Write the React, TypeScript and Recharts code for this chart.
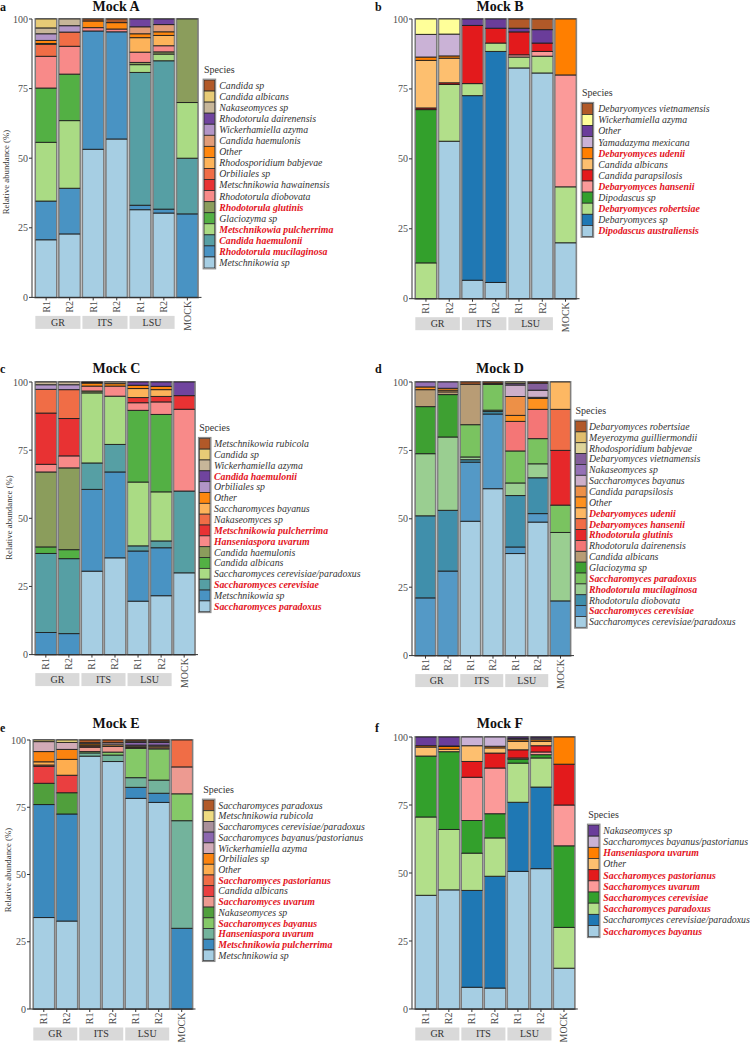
import React from 'react'
import { BarChart, Bar, XAxis, YAxis } from 'recharts'

const SAMPLES = ['GR R1', 'GR R2', 'ITS R1', 'ITS R2', 'LSU R1', 'LSU R2', 'MOCK']

// species are listed in legend order (top of the stack first);
// each row holds the relative abundance (%) for the 7 samples above
const A_SPECIES = [
  'Candida sp', 'Candida albicans', 'Nakaseomyces sp', 'Rhodotorula dairenensis', 'Wickerhamiella azyma',
  'Candida haemulonis', 'Other', 'Rhodosporidium babjevae', 'Orbiliales sp', 'Metschnikowia hawainensis',
  'Rhodotorula diobovata', 'Rhodotorula glutinis', 'Glaciozyma sp', 'Metschnikowia pulcherrima',
  'Candida haemulonii', 'Rhodotorula mucilaginosa', 'Metschnikowia sp',
]
const A_RED = ['Rhodotorula glutinis', 'Metschnikowia pulcherrima', 'Candida haemulonii', 'Rhodotorula mucilaginosa']
const A_VALUES = [
  [0, 0, 0.7, 1.3, 0, 0, 0],
  [3.2, 0, 0, 0, 0, 0, 0],
  [2.1, 2.4, 0, 0, 0, 0, 0],
  [0, 0, 0, 0, 2.8, 2.0, 0],
  [2.4, 2.3, 0, 0, 0, 0, 0],
  [0, 0, 0, 0, 2.5, 2.6, 0],
  [1.1, 0, 2.4, 2.3, 1.4, 1.3, 0],
  [0.3, 0, 0, 0, 5.2, 3.7, 0],
  [4.3, 5.1, 0, 0, 0, 0, 0],
  [0, 0, 0, 0, 0, 0, 0],
  [11.4, 10.0, 1.2, 1.0, 3.7, 2.2, 0],
  [0, 0, 0, 0, 0.8, 0.8, 30],
  [19.5, 16.7, 0, 0, 0, 0, 0],
  [21.1, 24.3, 0, 0, 2.8, 2.4, 20],
  [0, 0, 0, 0, 47.7, 53.3, 20],
  [13.9, 16.4, 42.5, 38.5, 1.6, 1.4, 30],
  [20.7, 22.8, 53.2, 56.9, 31.5, 30.3, 0],
]

const B_SPECIES = [
  'Debaryomyces vietnamensis', 'Wickerhamiella azyma', 'Other', 'Yamadazyma mexicana', 'Debaryomyces udenii',
  'Candida albicans', 'Candida parapsilosis', 'Debaryomyces hansenii', 'Dipodascus sp',
  'Debaryomyces robertsiae', 'Debaryomyces sp', 'Dipodascus australiensis',
]
const B_RED = ['Debaryomyces udenii', 'Debaryomyces hansenii', 'Debaryomyces robertsiae', 'Dipodascus australiensis']
const B_VALUES = [
  [0, 0, 0, 0, 3.3, 3.8, 0],
  [5.5, 5.4, 0, 0, 0, 0, 0],
  [0, 0, 2.3, 3.3, 1.3, 4.8, 0],
  [8.1, 7.8, 0, 0, 0, 0, 0],
  [1.2, 0.8, 0, 0, 0, 0, 20],
  [17, 8.8, 0, 0, 0, 0, 0],
  [0.6, 0.6, 20.8, 5.3, 8.2, 3.0, 0],
  [0, 0, 0, 0, 0.8, 1.7, 40],
  [54.8, 0, 0, 0, 0, 0, 0],
  [12.8, 20.3, 4.3, 3.0, 3.9, 6.0, 20],
  [0, 0, 66, 82.6, 0, 0, 0],
  [0, 56.3, 6.6, 5.8, 82.5, 80.7, 20],
]

const C_SPECIES = [
  'Metschnikowia rubicola', 'Candida sp', 'Wickerhamiella azyma', 'Candida haemulonii', 'Orbiliales sp',
  'Other', 'Saccharomyces bayanus', 'Nakaseomyces sp', 'Metschnikowia pulcherrima', 'Hanseniaspora uvarum',
  'Candida haemulonis', 'Candida albicans', 'Saccharomyces cerevisiae/paradoxus', 'Saccharomyces cerevisiae',
  'Metschnikowia sp', 'Saccharomyces paradoxus',
]
const C_RED = ['Candida haemulonii', 'Metschnikowia pulcherrima', 'Hanseniaspora uvarum', 'Saccharomyces cerevisiae', 'Saccharomyces paradoxus']
const C_VALUES = [
  [0, 0, 0.2, 0, 0, 0, 0],
  [0, 0, 0, 0, 0, 0, 0],
  [1, 1, 0.2, 0.6, 0, 0, 0],
  [0, 0, 0, 0, 1.2, 1.6, 5],
  [1.7, 1.8, 0, 0, 0, 0, 0],
  [0, 0, 1.1, 0.9, 1.2, 1.2, 0],
  [0, 0, 0, 0, 3.3, 2.5, 0],
  [8.7, 10.6, 0, 0, 0, 0, 0],
  [18.8, 13.7, 0, 0, 1.9, 2.0, 5],
  [2.8, 4.4, 1.8, 3.7, 2.8, 4.6, 30],
  [27.5, 30, 0.7, 0, 0, 0, 0],
  [2.4, 3.3, 0, 0, 26.3, 28.4, 0],
  [0, 0, 25.7, 17.7, 23.4, 18, 0],
  [29, 27.5, 9.7, 10.1, 1.9, 2.5, 30],
  [8.1, 7.7, 30, 31.5, 18.4, 17.6, 0],
  [0, 0, 30.6, 35.5, 19.6, 21.6, 30],
]

const D_SPECIES = [
  'Debaryomyces robertsiae', 'Meyerozyma guilliermondii', 'Rhodosporidium babjevae', 'Debaryomyces vietnamensis',
  'Nakaseomyces sp', 'Saccharomyces bayanus', 'Candida parapsilosis', 'Other', 'Debaryomyces udenii',
  'Debaryomyces hansenii', 'Rhodotorula glutinis', 'Rhodotorula dairenensis', 'Candida albicans', 'Glaciozyma sp',
  'Saccharomyces paradoxus', 'Rhodotorula mucilaginosa', 'Rhodotorula diobovata', 'Saccharomyces cerevisiae',
  'Saccharomyces cerevisiae/paradoxus',
]
const D_RED = ['Debaryomyces udenii', 'Debaryomyces hansenii', 'Rhodotorula glutinis', 'Saccharomyces paradoxus', 'Rhodotorula mucilaginosa', 'Saccharomyces cerevisiae']
const D_VALUES = [
  [0, 0, 0.8, 0.5, 0, 0.4, 0],
  [0, 0, 0, 0, 0, 0, 0],
  [0, 0, 0, 0, 0.5, 0, 0],
  [0, 0, 0, 0, 0.6, 2.6, 0],
  [1.8, 2.3, 0, 0, 0, 0, 0],
  [0, 0, 0, 0, 4.2, 2.6, 0],
  [0, 0, 0, 0, 6.9, 0.4, 0],
  [1.0, 0.7, 0, 0, 2.2, 4.0, 0],
  [0, 0.6, 0, 0, 0, 0, 10],
  [0, 0, 0, 0, 0, 0, 15],
  [0, 0, 0, 0, 0, 0, 20],
  [0, 0, 0, 0, 10.8, 10.7, 0],
  [6.2, 1.0, 14.8, 0.4, 0, 0, 0],
  [17.2, 15.5, 0, 0, 0, 0, 0],
  [0, 0, 11.8, 9.4, 11.7, 9.2, 10],
  [22.7, 26.8, 1.0, 0.5, 4.6, 5.1, 25],
  [30, 22.2, 0.9, 0.9, 18.8, 13.1, 0],
  [21.1, 30.9, 21.6, 27.3, 2.4, 3.1, 20],
  [0, 0, 49.1, 61, 37.3, 48.8, 0],
]

const E_SPECIES = [
  'Saccharomyces paradoxus', 'Metschnikowia rubicola', 'Saccharomyces cerevisiae/paradoxus',
  'Saccharomyces bayanus/pastorianus', 'Wickerhamiella azyma', 'Orbiliales sp', 'Other',
  'Saccharomyces pastorianus', 'Candida albicans', 'Saccharomyces uvarum', 'Nakaseomyces sp',
  'Saccharomyces bayanus', 'Hanseniaspora uvarum', 'Metschnikowia pulcherrima', 'Metschnikowia sp',
]
const E_RED = ['Saccharomyces pastorianus', 'Saccharomyces uvarum', 'Saccharomyces bayanus', 'Hanseniaspora uvarum', 'Metschnikowia pulcherrima']
const E_VALUES = [
  [0, 0, 1.0, 1.0, 0.4, 0.4, 0],
  [0.6, 0.9, 0, 0, 0, 0, 0],
  [0, 0, 0.4, 0.8, 0.5, 0.5, 0],
  [0, 0, 0, 0, 1.0, 1.0, 0],
  [3.7, 2.6, 0, 0, 0.4, 0.4, 0],
  [3.8, 3.7, 0.5, 0, 0, 0, 0],
  [1.2, 5.9, 0.4, 0.6, 0.5, 0.6, 0],
  [0.5, 0, 0, 0, 0, 0, 10],
  [6.3, 6.5, 0.4, 0, 0, 0, 0],
  [0, 0, 1.6, 2.1, 0.3, 0.4, 10],
  [7.9, 7.9, 0, 0, 0, 0, 0],
  [0, 0, 0.5, 1.1, 10.9, 11.6, 10],
  [0, 0, 1.2, 2.4, 3.6, 4.9, 40],
  [42, 39.8, 0, 0, 4.1, 3.4, 30],
  [34, 32.7, 94, 92, 78.3, 76.8, 0],
]

const F_SPECIES = [
  'Nakaseomyces sp', 'Saccharomyces bayanus/pastorianus', 'Hanseniaspora uvarum', 'Other',
  'Saccharomyces pastorianus', 'Saccharomyces uvarum', 'Saccharomyces cerevisiae', 'Saccharomyces paradoxus',
  'Saccharomyces cerevisiae/paradoxus', 'Saccharomyces bayanus',
]
const F_RED = ['Hanseniaspora uvarum', 'Saccharomyces pastorianus', 'Saccharomyces uvarum', 'Saccharomyces cerevisiae', 'Saccharomyces paradoxus', 'Saccharomyces bayanus']
const F_VALUES = [
  [3.2, 3.3, 0, 0, 0.6, 0.4, 0],
  [0, 0.2, 3.2, 3.4, 0.4, 0.6, 0],
  [0.5, 1.0, 0, 0.6, 0.6, 0.6, 10],
  [3.3, 0.9, 5.8, 1.9, 3.1, 1.6, 0],
  [0, 0, 5.8, 5.5, 3.0, 2.3, 15],
  [0, 0, 15.9, 16.8, 0.4, 1.0, 15],
  [22.4, 28.6, 12, 8.9, 1.5, 1.2, 30],
  [28.8, 22.2, 13.7, 14.1, 14.4, 10.7, 15],
  [0, 0, 35.6, 41.1, 25.4, 30, 0],
  [41.8, 43.8, 8, 7.7, 50.6, 51.6, 15],
]

// ColorBrewer "Paired", stretched the way colorRampPalette does it
const PAIRED = ['#a6cee3', '#1f78b4', '#b2df8a', '#33a02c', '#fb9a99', '#e31a1c', '#fdbf6f', '#ff7f00', '#cab2d6', '#6a3d9a', '#ffff99', '#b15928']

function ramp(n: number): string[] {
  const rgb = PAIRED.map((h) => [1, 3, 5].map((k) => parseInt(h.slice(k, k + 2), 16)))
  return Array.from({ length: n }, (_, k) => {
    const t = (k * (rgb.length - 1)) / (n - 1)
    const i = Math.min(Math.floor(t), rgb.length - 2)
    const f = t - i
    const c = rgb[i].map((v, j) => Math.round(v + (rgb[i + 1][j] - v) * f))
    return '#' + c.map((v) => v.toString(16).padStart(2, '0')).join('')
  })
}

const FONT = '"Liberation Serif", "Times New Roman", Times, serif'
const RED = '#e3121b'
const INK = '#333333'

interface Spec {
  letter: string
  title: string
  species: string[]
  red: string[]
  values: number[][]
  colors: string[] // bottom of the stack first
  axisX: number
  y100: number
  y0: number
  plotRight: number
  letterX: number
  letterY: number
  titleX: number
  titleY: number
  yTitle?: { x: number; y: number }
  keyX: number
  labelX: number
  keysTop: number
  rowH: number
}

const PANELS: Spec[] = [
  {
    letter: 'a', title: 'Mock A', species: A_SPECIES, red: A_RED, values: A_VALUES, colors: ramp(17),
    axisX: 31.5, y100: 19.3, y0: 297.7, plotRight: 201,
    letterX: 0, letterY: 10.5, titleX: 116, titleY: 11, yTitle: { x: 8.5, y: 172 },
    keyX: 204, labelX: 219.3, keysTop: 80, rowH: 11.06,
  },
  {
    letter: 'b', title: 'Mock B', species: B_SPECIES, red: B_RED, values: B_VALUES, colors: ramp(12),
    axisX: 411.5, y100: 19.3, y0: 299, plotRight: 579,
    letterX: 375, letterY: 10.5, titleX: 500, titleY: 11,
    keyX: 582, labelX: 598.3, keysTop: 103.3, rowH: 11.1,
  },
  {
    letter: 'c', title: 'Mock C', species: C_SPECIES, red: C_RED, values: C_VALUES,
    colors: ramp(17).filter((_, k) => k !== 11),
    axisX: 31.5, y100: 381.7, y0: 654.3, plotRight: 197.5,
    letterX: 0, letterY: 373, titleX: 116.5, titleY: 373, yTitle: { x: 12, y: 517.5 },
    keyX: 199.3, labelX: 214, keysTop: 438.3, rowH: 10.84,
  },
  {
    letter: 'd', title: 'Mock D', species: D_SPECIES, red: D_RED, values: D_VALUES, colors: ramp(19),
    axisX: 411.5, y100: 381.7, y0: 655.3, plotRight: 573.5,
    letterX: 375, letterY: 373, titleX: 500, titleY: 373,
    keyX: 575.5, labelX: 589, keysTop: 421, rowH: 10.86,
  },
  {
    letter: 'e', title: 'Mock E', species: E_SPECIES, red: E_RED, values: E_VALUES, colors: ramp(15),
    axisX: 29.5, y100: 740, y0: 1009, plotRight: 195,
    letterX: 0, letterY: 732, titleX: 116, titleY: 728, yTitle: { x: 10.5, y: 870 },
    keyX: 203.3, labelX: 218.3, keysTop: 800, rowH: 10.71,
  },
  {
    letter: 'f', title: 'Mock F', species: F_SPECIES, red: F_RED, values: F_VALUES, colors: PAIRED.slice(0, 10),
    axisX: 411.7, y100: 737.3, y0: 1009.3, plotRight: 577.5,
    letterX: 375, letterY: 732, titleX: 500, titleY: 728,
    keyX: 588.3, labelX: 603.3, keysTop: 825, rowH: 11.17,
  },
]

const MT = 6
const YW = 30
const XH = 46
const MR = 4

function Segment(props: any) {
  const { x, y, width, height, fill } = props
  if (!height || height <= 0) return null
  return (
    <g>
      <rect x={x} y={y} width={width} height={height} fill={fill} />
      <line x1={x} x2={x} y1={y} y2={y + height} stroke="#7a7a7a" strokeWidth={1} />
      <line x1={x + width} x2={x + width} y1={y} y2={y + height} stroke="#7a7a7a" strokeWidth={1} />
      <line x1={x} x2={x + width} y1={y} y2={y} stroke="#1e1e1e" strokeWidth={0.9} />
      <line x1={x} x2={x + width} y1={y + height} y2={y + height} stroke="#1e1e1e" strokeWidth={0.9} />
    </g>
  )
}

function SampleTick(props: any) {
  const { x, payload, base, band } = props
  const [grp, rep] = String(payload.value).split(' ')
  return (
    <g>
      <text
        transform={`translate(${x + 3.4},${base + 3.5}) rotate(-90)`}
        textAnchor="end"
        fontSize={10}
        fill="#4d4d4d"
        fontFamily={FONT}
      >
        {rep ?? grp}
      </text>
      {rep === 'R1' && (
        <g>
          <rect x={x - band / 2 + 1} y={base + 18.5} width={band * 2 - 2} height={13} fill="#d9d9d9" />
          <text x={x + band / 2} y={base + 28.3} textAnchor="middle" fontSize={10} fill={INK} fontFamily={FONT}>
            {grp}
          </text>
        </g>
      )}
    </g>
  )
}

function Panel({ s }: { s: Spec }) {
  const plotH = s.y0 - s.y100
  const plotW = s.plotRight - s.axisX
  const u = plotW / 7.2
  const n = s.species.length
  const rows = SAMPLES.map((name, j) => {
    const r: Record<string, number | string> = { sample: name }
    s.species.forEach((_, i) => {
      r['s' + i] = s.values[i][j]
    })
    return r
  })
  const stack = s.species.map((_, k) => n - 1 - k)
  const base = MT + plotH
  return (
    <div style={{ position: 'absolute', left: s.axisX - YW, top: s.y100 - MT }}>
      <BarChart
        width={YW + plotW + MR}
        height={MT + plotH + XH}
        data={rows}
        margin={{ top: MT, right: MR, bottom: 0, left: 0 }}
        barCategoryGap="5%"
      >
        <XAxis
          dataKey="sample"
          interval={0}
          padding={{ left: 0.1 * u, right: 0.1 * u }}
          height={XH}
          tickSize={3}
          axisLine={{ stroke: INK }}
          tickLine={{ stroke: INK }}
          tick={(p: any) => <SampleTick {...p} base={base} band={u} />}
        />
        <YAxis
          type="number"
          domain={[0, 100]}
          ticks={[0, 25, 50, 75, 100]}
          width={YW}
          tickSize={3}
          tickMargin={1}
          axisLine={{ stroke: INK }}
          tickLine={{ stroke: INK }}
          tick={{ fill: '#4d4d4d', fontSize: 10, fontFamily: FONT }}
        />
        {stack.map((i, k) => (
          <Bar
            key={s.species[i]}
            dataKey={'s' + i}
            stackId="mock"
            fill={s.colors[k]}
            isAnimationActive={false}
            shape={(p: any) => <Segment {...p} />}
            background={k === 0 ? { fill: 'none', stroke: '#8f8f8f', strokeWidth: 2.2 } : undefined}
          />
        ))}
      </BarChart>
    </div>
  )
}

function Labels({ s }: { s: Spec }) {
  const n = s.species.length
  const kw = 10.8
  return (
    <g fontFamily={FONT}>
      <text x={s.letterX} y={s.letterY} fontSize={12} fontWeight="bold" fill="#111">
        {s.letter}
      </text>
      <text x={s.titleX} y={s.titleY} fontSize={14} fontWeight="bold" fill="#111" textAnchor="middle">
        {s.title}
      </text>
      {s.yTitle && (
        <text
          transform={`translate(${s.yTitle.x},${s.yTitle.y}) rotate(-90)`}
          textAnchor="middle"
          fontSize={8.8}
          fill={INK}
        >
          Relative abundance (%)
        </text>
      )}
      <text x={s.keyX} y={s.keysTop - 7} fontSize={10} fill={INK}>
        Species
      </text>
      {s.species.map((sp, i) => {
        const y = s.keysTop + i * s.rowH
        const isRed = s.red.includes(sp)
        return (
          <g key={sp}>
            <rect x={s.keyX} y={y} width={kw} height={s.rowH} fill={s.colors[n - 1 - i]} stroke="#2a2a2a" strokeWidth={0.8} />
            <text
              x={s.labelX}
              y={y + s.rowH / 2 + 3.4}
              fontSize={9.8}
              fontStyle="italic"
              fontWeight={isRed ? 'bold' : 'normal'}
              fill={isRed ? RED : INK}
            >
              {sp}
            </text>
          </g>
        )
      })}
      <rect
        x={s.keyX - 0.8}
        y={s.keysTop - 0.8}
        width={kw + 1.6}
        height={n * s.rowH + 1.6}
        fill="none"
        stroke="#8c8c8c"
        strokeWidth={1.2}
      />
    </g>
  )
}

export default function App() {
  return (
    <div style={{ position: 'absolute', left: 0, top: 0, width: 750, height: 1044, background: '#fff', fontFamily: FONT }}>
      {PANELS.map((s) => (
        <Panel key={s.letter} s={s} />
      ))}
      <svg width={750} height={1044} style={{ position: 'absolute', left: 0, top: 0, pointerEvents: 'none' }}>
        {PANELS.map((s) => (
          <Labels key={s.letter} s={s} />
        ))}
      </svg>
    </div>
  )
}
